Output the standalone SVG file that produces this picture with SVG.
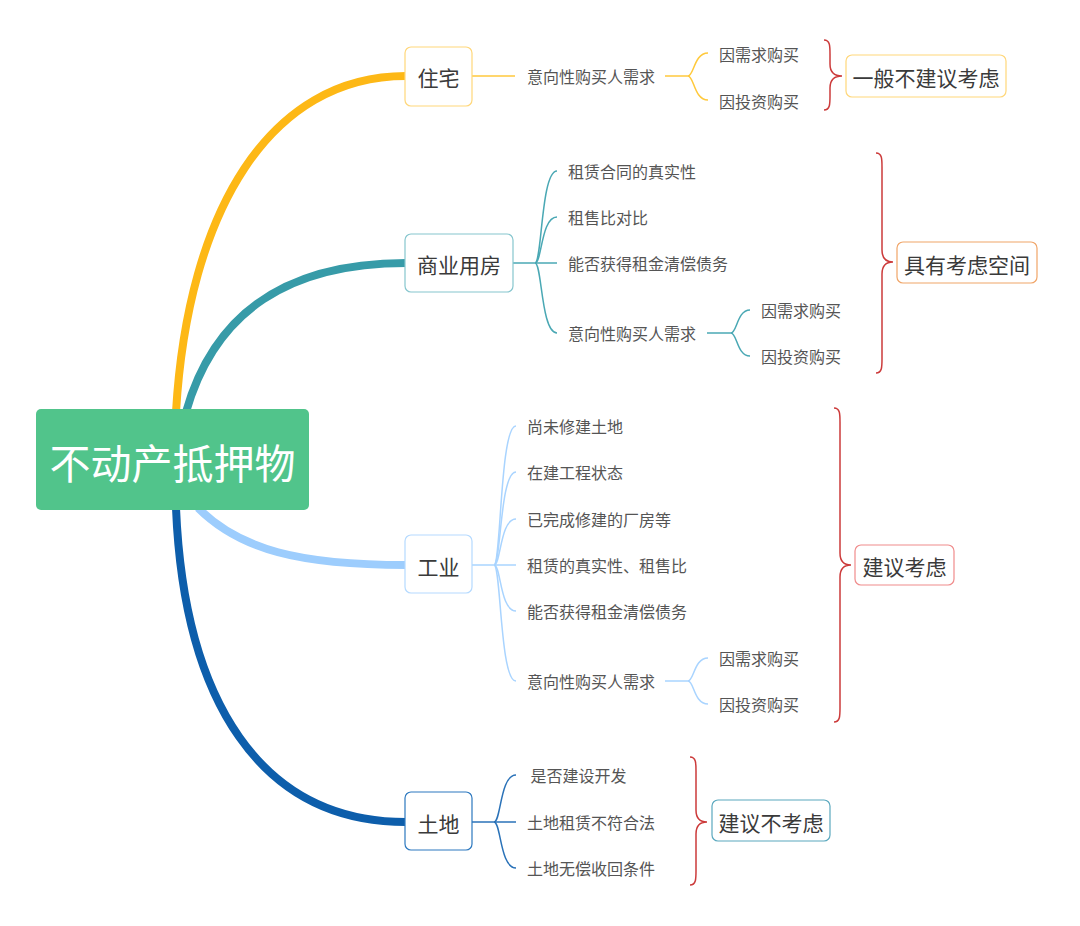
<svg xmlns="http://www.w3.org/2000/svg" width="1080" height="926" viewBox="0 0 1080 926">
<style>
text{font-family:"Noto Sans CJK SC","Noto Sans",sans-serif;dominant-baseline:central}
.lbl{font-size:16px;fill:#555}
.big{font-size:21px;fill:#3a3a3a}
.box{fill:#fff;stroke-width:1.2}
.thin{fill:none;stroke-width:1.5}
.main{fill:none;stroke-width:8;stroke-linecap:butt}
.brace{fill:none;stroke:#cc3b3b;stroke-width:1.5}
</style>
<rect width="1080" height="926" fill="#fff"/>
<g id="connectors">
<path class="main" stroke="#FDB816" d="M176,412 C188,210 270,76 406,76"/>
<path class="main" stroke="#379BA8" d="M186,412 C215,310 290,263 406,263"/>
<path class="main" stroke="#9DCDFD" d="M198,508 C240,550 300,565 406,565"/>
<path class="main" stroke="#0D5EAB" d="M176,508 C184,700 260,822 406,822"/>
<g stroke="#FFC93C" class="thin">
<path d="M472,76 H515"/>
<path d="M665,76 H688"/>
<path d="M688,76 C694,76 694,53 708,53"/>
<path d="M688,76 C694,76 694,100 708,100"/>
</g>
<g stroke="#4AA8B4" class="thin">
<path d="M513,263 H557"/>
<path d="M535,263 C542,263 541,171 557,171"/>
<path d="M535,263 C542,263 541,217 557,217"/>
<path d="M535,263 C542,263 541,333 557,333"/>
<path d="M707,333 H731"/>
<path d="M731,333 C737,333 737,310 750,310"/>
<path d="M731,333 C737,333 737,356 750,356"/>
</g>
<g stroke="#A9D4FF" class="thin">
<path d="M472,565 H516"/>
<path d="M494,565 C501,565 500,426 516,426"/>
<path d="M494,565 C501,565 500,472 516,472"/>
<path d="M494,565 C501,565 500,519 516,519"/>
<path d="M494,565 C501,565 500,611 516,611"/>
<path d="M494,565 C501,565 500,681 516,681"/>
<path d="M665,681 H688"/>
<path d="M688,681 C694,681 694,658 708,658"/>
<path d="M688,681 C694,681 694,704 708,704"/>
</g>
<g stroke="#2A72B8" class="thin">
<path d="M472,822 H516"/>
<path d="M494,822 C501,822 500,775 516,775"/>
<path d="M494,822 C501,822 500,868 516,868"/>
</g>
<path class="brace" d="M824,40 C830,40 830,46 830,54 L830,64 C830,72 834,76 842,76 C834,76 830,80 830,88 L830,96 C830,104 830,110 824,110"/>
<path class="brace" d="M876,153 C882,153 882,159 882,167 L882,250 C882,258 886,262 893,262 C886,262 882,266 882,274 L882,359 C882,367 882,373 876,373"/>
<path class="brace" d="M834,408 C840,408 840,414 840,422 L840,553 C840,561 844,565 851,565 C844,565 840,569 840,577 L840,708 C840,716 840,722 834,722"/>
<path class="brace" d="M690,757 C696,757 696,763 696,771 L696,810 C696,818 700,822 707,822 C700,822 696,826 696,834 L696,871 C696,879 696,885 690,885"/>
</g>
<g id="root">
<rect x="36" y="409" width="273" height="101" rx="5" fill="#51C48B"/>
<text x="172.5" y="461" text-anchor="middle" font-size="41" fill="#fff">不动产抵押物</text>
</g>
<g id="zhuzhai">
<rect class="box" x="405" y="47" width="67" height="59" rx="6" stroke="#FFD77A"/>
<text class="big" x="438.5" y="77" text-anchor="middle">住宅</text>
<text class="lbl" x="527" y="76">意向性购买人需求</text>
<text class="lbl" x="719" y="54">因需求购买</text>
<text class="lbl" x="719" y="101">因投资购买</text>
</g>
<g id="concl1">
<rect class="box" x="846" y="55" width="160" height="42" rx="6" stroke="#FFD77A"/>
<text class="big" x="926" y="77" text-anchor="middle">一般不建议考虑</text>
</g>
<g id="shangye">
<rect class="box" x="405" y="234" width="108" height="58" rx="6" stroke="#86C6CE"/>
<text class="big" x="459" y="264" text-anchor="middle">商业用房</text>
<text class="lbl" x="568" y="171">租赁合同的真实性</text>
<text class="lbl" x="568" y="217">租售比对比</text>
<text class="lbl" x="568" y="263">能否获得租金清偿债务</text>
<text class="lbl" x="568" y="333">意向性购买人需求</text>
<text class="lbl" x="761" y="310">因需求购买</text>
<text class="lbl" x="761" y="356">因投资购买</text>
</g>
<g id="concl2">
<rect class="box" x="897" y="242" width="140" height="41" rx="6" stroke="#F0A568"/>
<text class="big" x="967" y="264" text-anchor="middle">具有考虑空间</text>
</g>
<g id="gongye">
<rect class="box" x="405" y="535" width="67" height="58" rx="6" stroke="#B5DAFF"/>
<text class="big" x="438.5" y="566" text-anchor="middle">工业</text>
<text class="lbl" x="527" y="426">尚未修建土地</text>
<text class="lbl" x="527" y="472">在建工程状态</text>
<text class="lbl" x="527" y="519">已完成修建的厂房等</text>
<text class="lbl" x="527" y="565">租赁的真实性、租售比</text>
<text class="lbl" x="527" y="611">能否获得租金清偿债务</text>
<text class="lbl" x="527" y="681">意向性购买人需求</text>
<text class="lbl" x="719" y="658">因需求购买</text>
<text class="lbl" x="719" y="704">因投资购买</text>
</g>
<g id="concl3">
<rect class="box" x="855" y="545" width="99" height="40" rx="6" stroke="#F08C8C"/>
<text class="big" x="904.5" y="566" text-anchor="middle">建议考虑</text>
</g>
<g id="tudi">
<rect class="box" x="405" y="792" width="67" height="58" rx="6" stroke="#2C78BF"/>
<text class="big" x="438.5" y="823" text-anchor="middle">土地</text>
<text class="lbl" x="527" y="775" xml:space="preserve"> 是否建设开发</text>
<text class="lbl" x="527" y="822">土地租赁不符合法</text>
<text class="lbl" x="527" y="868">土地无偿收回条件</text>
</g>
<g id="concl4">
<rect class="box" x="712" y="800" width="118" height="41" rx="6" stroke="#5AA8BE"/>
<text class="big" x="771" y="822" text-anchor="middle">建议不考虑</text>
</g>
</svg>
